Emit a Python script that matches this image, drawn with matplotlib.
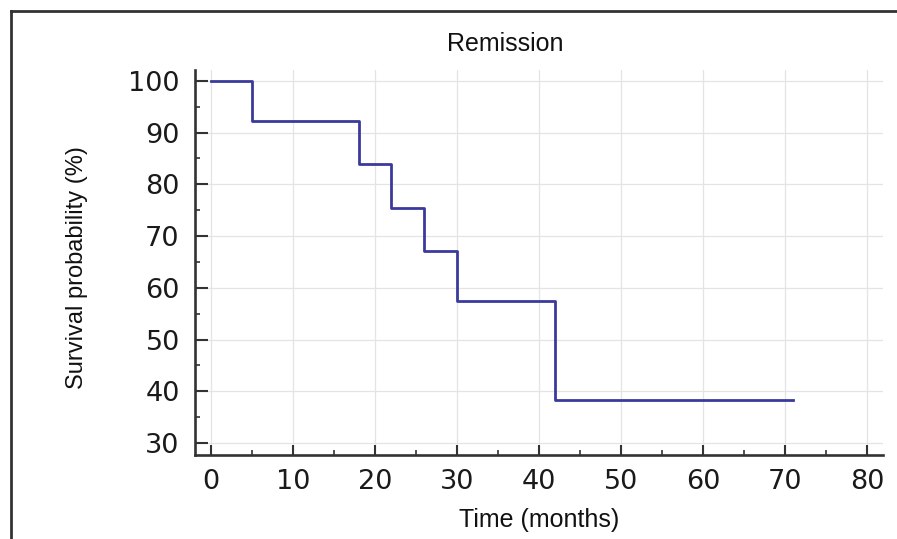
import matplotlib
matplotlib.use("Agg")
import matplotlib.pyplot as plt
from matplotlib.lines import Line2D
from matplotlib.ticker import MultipleLocator

# Data (Kaplan-Meier step curve)
times = [0, 5, 18, 22, 26, 30, 42, 71]
survival = [100, 92.3, 83.9, 75.5, 67.1, 57.5, 38.3, 38.3]
x_ticks = [0, 10, 20, 30, 40, 50, 60, 70, 80]
y_ticks = [30, 40, 50, 60, 70, 80, 90, 100]
title = "Remission"
x_label = "Time (months)"
y_label = "Survival probability (%)"

W, H = 897, 539
fig = plt.figure(figsize=(W / 100, H / 100), dpi=100)
fig.patch.set_facecolor("white")

left_px, right_px, top_px, bottom_px = 195, 883, 70, 455
ax = fig.add_axes([left_px / W, 1 - bottom_px / H,
                   (right_px - left_px) / W, (bottom_px - top_px) / H])

ax.step(times, survival, where="post", color="#3a3a9c", lw=2.0, zorder=3)

ax.set_xlim(-1.95, 81.95)
ax.set_ylim(27.68, 102.1)

ax.set_xticks(x_ticks)
ax.set_yticks(y_ticks)
ax.xaxis.set_minor_locator(MultipleLocator(5))
ax.yaxis.set_minor_locator(MultipleLocator(5))

ax.grid(True, which="major", color="#e4e4e4", lw=0.9, zorder=0)

spine_col = "#333333"
for s in ["top", "right"]:
    ax.spines[s].set_visible(False)
for s in ["left", "bottom"]:
    ax.spines[s].set_color(spine_col)
    ax.spines[s].set_linewidth(1.9)

tick_font = "DejaVu Sans"
ax.tick_params(axis="both", which="major", direction="in", color=spine_col,
               width=1.5, labelsize=19.5, labelcolor="#1a1a1a")
ax.tick_params(axis="x", which="major", length=7.5, pad=10)
ax.tick_params(axis="y", which="major", length=9, pad=11)
ax.tick_params(axis="both", which="minor", direction="in", color=spine_col,
               width=1.2, length=3.8)
for lab in ax.get_xticklabels() + ax.get_yticklabels():
    lab.set_fontfamily(tick_font)

text_font = "Liberation Sans"
ax.set_xlabel(x_label, fontsize=18, fontfamily=text_font, color="#111111")
ax.xaxis.label.set_va("baseline")
ax.xaxis.set_label_coords(0.5, (bottom_px - 527) / (bottom_px - top_px))

ax.set_ylabel(y_label, fontsize=17, fontfamily=text_font, color="#111111")
ax.yaxis.label.set_va("center")
ax.yaxis.set_label_coords((76.5 - left_px) / (right_px - left_px),
                          (bottom_px - 267.5) / (bottom_px - top_px))

fig.text(505.5 / W, 1 - 51 / H, title, ha="center", va="baseline",
         fontsize=18, fontfamily=text_font, color="#111111")

# Outer frame (left and top edges)
fig.add_artist(Line2D([11 / W, 11 / W], [0, 1 - 11 / H], transform=fig.transFigure,
                      color="#333333", lw=2.0))
fig.add_artist(Line2D([11 / W, 1], [1 - 11 / H, 1 - 11 / H], transform=fig.transFigure,
                      color="#333333", lw=2.0))

fig.savefig("out.png", dpi=100, facecolor="white")
